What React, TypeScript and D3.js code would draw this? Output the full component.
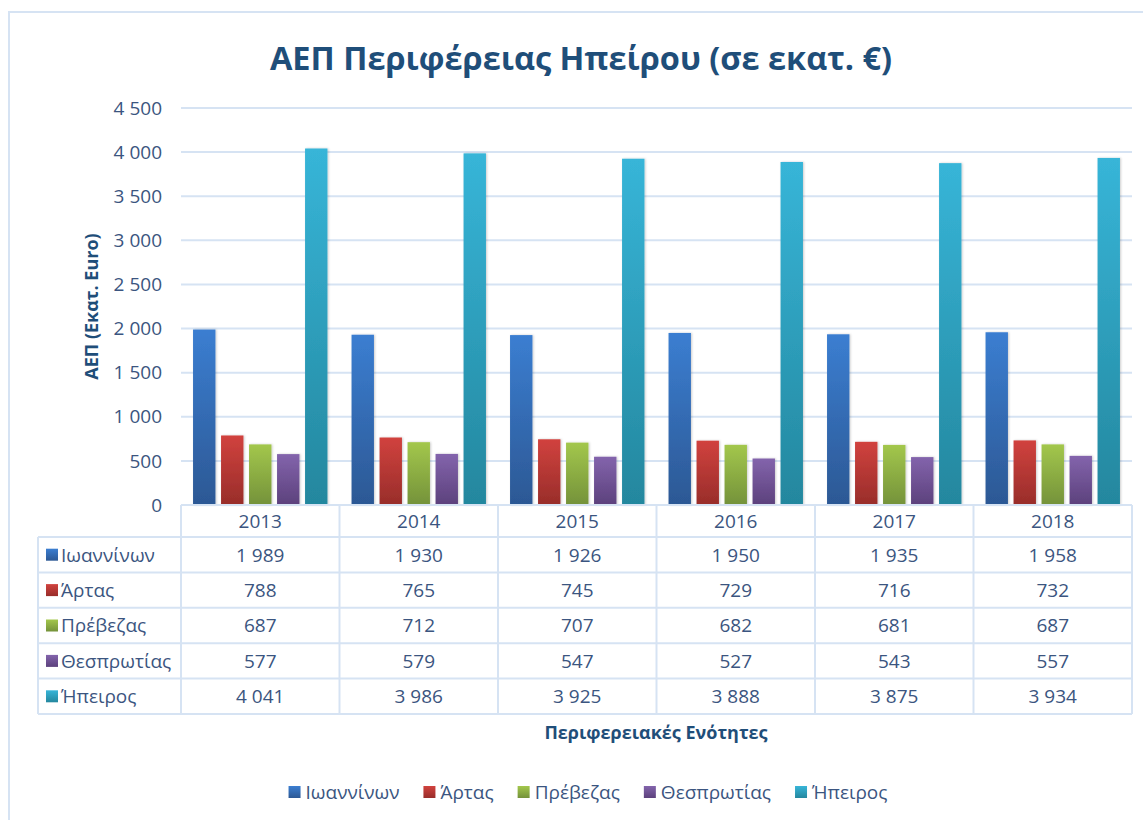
import React from "react";
import * as d3 from "d3";

const years = ["2013", "2014", "2015", "2016", "2017", "2018"];
const seriesNames = ["Ιωαννίνων", "Άρτας", "Πρέβεζας", "Θεσπρωτίας", "Ήπειρος"];
const ioanninon = [1989, 1930, 1926, 1950, 1935, 1958];
const artas = [788, 765, 745, 729, 716, 732];
const prevezas = [687, 712, 707, 682, 681, 687];
const thesprotias = [577, 579, 547, 527, 543, 557];
const ipeiros = [4041, 3986, 3925, 3888, 3875, 3934];
const seriesValues = [ioanninon, artas, prevezas, thesprotias, ipeiros];
const yTicks = [0, 500, 1000, 1500, 2000, 2500, 3000, 3500, 4000, 4500];

const colorsTop = ["#3b7ed1", "#d1423e", "#a3c74c", "#8364ac", "#37b5d8"];
const colorsBottom = ["#2c5894", "#982d2a", "#74923a", "#5c417c", "#24879e"];

const FONT = "'Open Sans', 'Noto Sans', sans-serif";
const TEXT = "#3b5580";
const TITLE = "#1f4e79";
const GRID = "#d6e3f3";

const fmt = (v: number) => d3.format(",")(v).replace(/,/g, " ");

function measure(text: string, size: number, weight = "normal") {
  if (typeof document === "undefined") return text.length * size * 0.55;
  const c = document.createElement("canvas").getContext("2d")!;
  c.font = `${weight} ${size}px 'Open Sans'`;
  return c.measureText(text).width;
}

export default function App() {
  const W = 1143, H = 820;
  const plotL = 181, plotR = 1132, plotT = 108, plotB = 505;
  const headerH = 32, rowH = 35.4;
  const tableL = 38;
  const FS = 19;

  const x = d3.scaleBand<string>().domain(years).range([plotL, plotR]);
  const inner = d3
    .scaleBand<string>()
    .domain(seriesNames)
    .range([0, x.bandwidth()])
    .paddingInner(0.2)
    .paddingOuter(0.43);
  const y = d3.scaleLinear().domain([0, 4500]).range([plotB, plotT]);

  const tableBottom = plotB + headerH + rowH * seriesNames.length;

  // legend layout
  const legSize = 19;
  const sq = 12;
  const items = seriesNames.map((n) => ({ n, w: sq + 5 + measure(n, legSize) }));
  const gap = 24;
  const totalW = d3.sum(items, (d) => d.w) + gap * (items.length - 1);
  let lx = 588 - totalW / 2;
  const legendPos = items.map((it) => {
    const p = lx;
    lx += it.w + gap;
    return p;
  });
  const legY = 792;

  return (
    <svg
      width={W}
      height={H}
      style={{ position: "absolute", left: 0, top: 0, background: "#fff" }}
      fontFamily={FONT}
    >
      <defs>
        {seriesNames.map((n, i) => (
          <linearGradient key={n} id={`g${i}`} x1="0" y1="0" x2="0" y2="1">
            <stop offset="0%" stopColor={colorsTop[i]} />
            <stop offset="100%" stopColor={colorsBottom[i]} />
          </linearGradient>
        ))}
        <filter id="shadow" x="-20%" y="-5%" width="140%" height="110%">
          <feDropShadow dx="1" dy="0" stdDeviation="1.2" floodColor="#000" floodOpacity="0.2" />
        </filter>
      </defs>
      <rect x={0} y={0} width={W} height={H} fill="#fff" />
      {/* chart border */}
      <rect x={9} y={12} width={W + 20} height={H + 20} fill="none" stroke={GRID} strokeWidth={2} />

      {/* title */}
      <text x={581} y={70} textAnchor="middle" fontSize={32.5} fontWeight="bold" fill={TITLE}>
        ΑΕΠ Περιφέρειας Ηπείρου (σε εκατ. €)
      </text>

      {/* gridlines */}
      {yTicks.filter((t) => t > 0).map((t) => (
        <line key={t} x1={plotL} x2={plotR} y1={y(t)} y2={y(t)} stroke={GRID} strokeWidth={2} />
      ))}
      {/* y tick labels */}
      {yTicks.map((t) => (
        <text key={t} x={162} y={y(t)} dy="0.35em" textAnchor="end" fontSize={FS} fill={TEXT}>
          {fmt(t)}
        </text>
      ))}
      {/* y axis title */}
      <text
        transform={`translate(98,${(plotT + plotB) / 2}) rotate(-90)`}
        textAnchor="middle"
        fontSize={18}
        fontWeight="bold"
        fill={TITLE}
      >
        ΑΕΠ (Εκατ. Euro)
      </text>

      {/* bars */}
      {years.map((yr, yi) => (
        <g key={yr} transform={`translate(${x(yr)},0)`}>
          {seriesNames.map((s, si) => (
            <rect
              key={s}
              x={inner(s)}
              y={y(seriesValues[si][yi])}
              width={inner.bandwidth()}
              height={plotB - y(seriesValues[si][yi])}
              fill={`url(#g${si})`}
              filter="url(#shadow)"
            />
          ))}
        </g>
      ))}

      {/* data table */}
      <g stroke={GRID} strokeWidth={2} fill="none">
        <line x1={plotL} x2={plotR} y1={plotB} y2={plotB} />
        {seriesNames.map((s, i) => (
          <line key={s} x1={tableL} x2={plotR} y1={plotB + headerH + rowH * i} y2={plotB + headerH + rowH * i} />
        ))}
        <line x1={tableL} x2={plotR} y1={tableBottom} y2={tableBottom} />
        <line x1={tableL} x2={tableL} y1={plotB + headerH} y2={tableBottom} />
        {years.map((yr) => (
          <line key={yr} x1={x(yr)} x2={x(yr)} y1={plotB} y2={tableBottom} />
        ))}
        <line x1={plotR} x2={plotR} y1={plotB} y2={tableBottom} />
      </g>
      {years.map((yr) => (
        <text
          key={yr}
          x={(x(yr) as number) + x.bandwidth() / 2}
          y={plotB + headerH / 2}
          dy="0.36em"
          textAnchor="middle"
          fontSize={FS}
          fill={TEXT}
        >
          {yr}
        </text>
      ))}
      {seriesNames.map((s, si) => {
        const cy = plotB + headerH + rowH * si + rowH / 2;
        return (
          <g key={s}>
            <rect x={46} y={cy - 6} width={12} height={12} fill={`url(#g${si})`} />
            <text x={61} y={cy} dy="0.36em" fontSize={FS} fill={TEXT}>
              {s}
            </text>
            {years.map((yr, yi) => (
              <text
                key={yr}
                x={(x(yr) as number) + x.bandwidth() / 2}
                y={cy}
                dy="0.36em"
                textAnchor="middle"
                fontSize={FS}
                fill={TEXT}
              >
                {fmt(seriesValues[si][yi])}
              </text>
            ))}
          </g>
        );
      })}

      {/* x axis title */}
      <text x={656} y={733} dy="0.35em" textAnchor="middle" fontSize={18} fontWeight="bold" fill={TITLE}>
        Περιφερειακές Ενότητες
      </text>

      {/* legend */}
      {items.map((it, i) => (
        <g key={it.n} transform={`translate(${legendPos[i]},${legY})`}>
          <rect x={0} y={-sq / 2} width={sq} height={sq} fill={`url(#g${i})`} />
          <text x={sq + 5} y={0} dy="0.36em" fontSize={legSize} fill={TEXT}>
            {it.n}
          </text>
        </g>
      ))}
    </svg>
  );
}
